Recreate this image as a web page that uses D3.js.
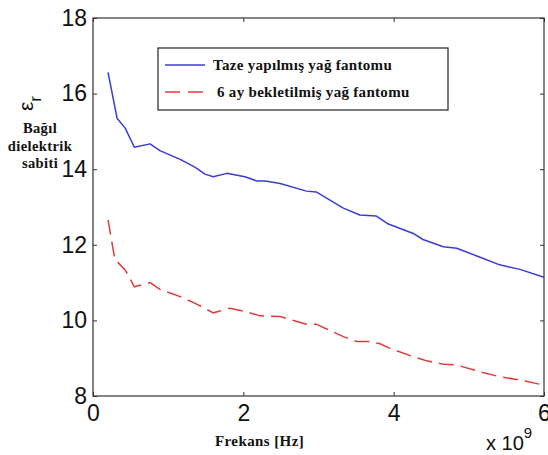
<!DOCTYPE html>
<html>
<head>
<meta charset="utf-8">
<script src="https://cdn.jsdelivr.net/npm/d3@7"></script>
<style>
	body { margin: 0; background: #fff; }
	svg { display: block; }
	.axis text { font-family: "Liberation Sans", Arial, sans-serif; font-size: 23px; fill: #111; }
	.axis path, .axis line { stroke: #333; }
	.serif { font-family: "Liberation Serif", "Times New Roman", serif; font-weight: bold; fill: #111; }
</style>
</head>
<body>
<div id="graphic"></div>
<script>
// frequency in GHz (axis is x 10^9 Hz)
const freshFreq = [0.2, 0.32, 0.43, 0.55, 0.76, 0.89, 1.16, 1.36, 1.49, 1.6, 1.78, 2.02, 2.18, 2.29, 2.49, 2.84, 2.97, 3.33, 3.55, 3.77, 3.93, 4.26, 4.39, 4.66, 4.84, 5.15, 5.41, 5.68, 6.0];
const freshVals = [16.56, 15.35, 15.08, 14.58, 14.67, 14.49, 14.26, 14.05, 13.87, 13.8, 13.89, 13.8, 13.69, 13.69, 13.62, 13.42, 13.4, 12.97, 12.79, 12.76, 12.55, 12.3, 12.14, 11.95, 11.91, 11.67, 11.47, 11.35, 11.14];

const agedFreq = [0.2, 0.29, 0.43, 0.55, 0.76, 0.89, 1.16, 1.36, 1.6, 1.82, 2.04, 2.22, 2.49, 2.84, 2.97, 3.33, 3.51, 3.66, 3.82, 3.95, 4.26, 4.44, 4.66, 4.84, 5.15, 5.41, 5.68, 6.0];
const agedVals = [12.66, 11.62, 11.33, 10.89, 11.0, 10.82, 10.63, 10.45, 10.2, 10.32, 10.23, 10.12, 10.1, 9.9, 9.9, 9.57, 9.44, 9.44, 9.38, 9.26, 9.04, 8.93, 8.84, 8.82, 8.64, 8.51, 8.42, 8.29];

const xTicks = [0, 2, 4, 6];
const yTicks = [8, 10, 12, 14, 16, 18];
const seriesNames = ['Taze yapılmış yağ fantomu', '6 ay bekletilmiş yağ fantomu'];

const width = 548, height = 455;
const margin = { top: 18, right: 4, bottom: 59, left: 93 };
const chartWidth = width - margin.left - margin.right;
const chartHeight = height - margin.top - margin.bottom;

const svg = d3.select('#graphic').append('svg')
	.attr('width', width)
	.attr('height', height);

const g = svg.append('g').attr('transform', `translate(${margin.left},${margin.top})`);

const x = d3.scaleLinear().domain([0, 6]).range([0, chartWidth]);
const y = d3.scaleLinear().domain([8, 18]).range([chartHeight, 0]);

// frame
g.append('rect')
	.attr('width', chartWidth)
	.attr('height', chartHeight)
	.attr('fill', 'none')
	.attr('stroke', '#333')
	.attr('stroke-width', 1.2);

// axes, ticks pointing inwards
g.append('g').attr('class', 'x axis')
	.attr('transform', `translate(0,${chartHeight})`)
	.call(d3.axisBottom(x).tickValues(xTicks).tickSizeInner(-4).tickSizeOuter(0).tickPadding(9).tickFormat(d3.format('d')));

g.append('g').attr('class', 'y axis')
	.call(d3.axisLeft(y).tickValues(yTicks).tickSizeInner(-4).tickSizeOuter(0).tickPadding(6).tickFormat(d3.format('d')));

g.append('g').attr('class', 'axis')
	.call(d3.axisTop(x).tickValues(xTicks).tickSizeInner(-4).tickSizeOuter(0).tickFormat(''));

g.append('g').attr('class', 'axis')
	.attr('transform', `translate(${chartWidth},0)`)
	.call(d3.axisRight(y).tickValues(yTicks).tickSizeInner(-4).tickSizeOuter(0).tickFormat(''));

g.selectAll('.axis path').remove();

// lines
const line = d3.line().x(d => x(d[0])).y(d => y(d[1]));

g.append('path')
	.datum(freshFreq.map((f, i) => [f, freshVals[i]]))
	.attr('fill', 'none')
	.attr('stroke', '#3b3bd6')
	.attr('stroke-width', 1.5)
	.attr('stroke-linejoin', 'round')
	.attr('d', line);

g.append('path')
	.datum(agedFreq.map((f, i) => [f, agedVals[i]]))
	.attr('fill', 'none')
	.attr('stroke', '#e03a3a')
	.attr('stroke-width', 1.5)
	.attr('stroke-dasharray', '15,7')
	.attr('d', line);

// legend
const legend = svg.append('g').attr('transform', 'translate(158,48)');
legend.append('rect')
	.attr('width', 290).attr('height', 62)
	.attr('fill', '#fff').attr('stroke', '#222').attr('stroke-width', 1.2);

const legendColours = ['#3b3bd6', '#e03a3a'];
const legendDash = [null, '15,8'];
const legendRows = [17, 44];
const legendTextX = [55, 59];

seriesNames.forEach((name, i) => {
	legend.append('line')
		.attr('x1', 7).attr('x2', 47)
		.attr('y1', legendRows[i]).attr('y2', legendRows[i])
		.attr('stroke', legendColours[i])
		.attr('stroke-width', 1.5)
		.attr('stroke-dasharray', legendDash[i]);
	legend.append('text')
		.attr('class', 'serif')
		.attr('x', legendTextX[i])
		.attr('y', legendRows[i] + 5)
		.style('font-size', '15px')
		.style('letter-spacing', '0.3px')
		.text(name);
});

// y label: epsilon_r rotated
const yLab = svg.append('text')
	.attr('transform', 'translate(33,111) rotate(-90)')
	.style('font-family', '"Liberation Sans", Arial, sans-serif')
	.style('font-size', '21px')
	.attr('fill', '#111');
yLab.append('tspan').text('ε');
yLab.append('tspan').attr('dy', 8).style('font-size', '17px').text('r');

const descLines = ['Bağıl', 'dielektrik', 'sabiti'];
svg.append('text')
	.attr('class', 'serif')
	.attr('text-anchor', 'middle')
	.style('font-size', '14.5px')
	.style('letter-spacing', '0.4px')
	.selectAll('tspan')
	.data(descLines)
	.join('tspan')
	.attr('x', 40)
	.attr('y', (d, i) => 133 + i * 17.5)
	.text(d => d);

// x label
svg.append('text')
	.attr('class', 'serif')
	.attr('x', 215)
	.attr('y', 446)
	.style('font-size', '15px')
	.style('letter-spacing', '0.4px')
	.text('Frekans [Hz]');

// exponent
const expo = svg.append('text')
	.attr('x', 486)
	.attr('y', 450)
	.style('font-family', '"Liberation Sans", Arial, sans-serif')
	.style('font-size', '20px')
	.attr('fill', '#111');
expo.append('tspan').text('x 10');
expo.append('tspan').attr('dy', -12).style('font-size', '15px').text('9');
</script>
</body>
</html>
